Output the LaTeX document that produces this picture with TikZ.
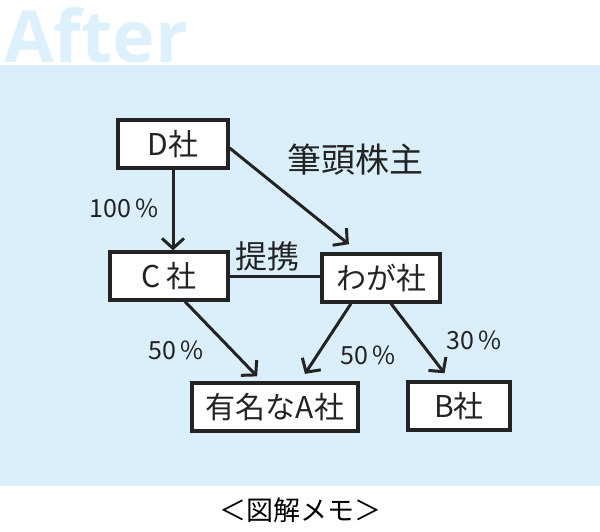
\documentclass[tikz,border=0pt]{standalone}
\usepackage{fontspec}
\setmainfont{Noto Sans CJK JP}
\newfontfamily\afterfont{Open Sans}
\usepackage{tikz}
\usetikzlibrary{positioning, arrows.meta}
\definecolor{memoblue}{RGB}{219,239,251}
\definecolor{afterblue}{RGB}{221,241,253}
\definecolor{ink}{RGB}{35,35,35}

\begin{document}
\begin{tikzpicture}[
  x=1pt, y=-1pt,
  every node/.style={font=\fontsize{30}{34}\selectfont, text=ink},
  corp/.style={
    draw=ink, line width=3.2pt, fill=white,
    minimum height=48pt, inner sep=0pt
  },
  lbl/.style={font=\fontsize{25}{29}\selectfont},
  arrow/.style={-{Straight Barb[length=10pt,width=22pt,line width=3pt]}, line width=3pt, draw=ink},
  link/.style={line width=3pt, draw=ink},
]
\useasboundingbox (0,0) rectangle (600,531);

% Background
\fill[memoblue] (0,65) rectangle (600,486);
\node[anchor=base west, font=\afterfont\bfseries\fontsize{72}{72}\selectfont, text=afterblue,
  inner sep=0pt] (after) at (4,62) {After};

% Companies
\node[corp, minimum width=110pt] (dco) at (173,144) {D社};
\node[corp, minimum width=118pt] (cco) at (169,276) {C 社};
\node[corp, minimum width=118pt] (waga) at (381,278) {わが社};
\node[corp, minimum width=166pt] (aco) at (275,407) {有名なA社};
\node[corp, minimum width=102pt] (bco) at (459,406) {B社};

% Relations
\draw[arrow] (dco.south) -- (dco.south |- cco.north);
\draw[arrow, shorten >=13pt] ([yshift=-4pt]dco.east) -- ([xshift=-22pt]waga.north);
\draw[link] (cco.east) -- (cco.east -| waga.west);
\draw[arrow, shorten >=7pt] ([xshift=16pt]cco.south) -- ([xshift=-13pt]aco.north);
\draw[arrow, shorten >=9pt] ([xshift=-30pt]waga.south) -- ([xshift=25pt]aco.north);
\draw[arrow, shorten >=9pt] ([xshift=10pt]waga.south) -- ([xshift=-9pt]bco.north);

% Labels
\node[lbl] (pct100) at (124,208) {100\,\%};
\node[font=\fontsize{34}{38}\selectfont] (hitto) at (355,160) {筆頭株主};
\node[font=\fontsize{32}{36}\selectfont] (teikei) at (267,256) {提携};
\node[lbl] (pctca) at (176,350) {50\,\%};
\node[lbl] (pctwa) at (368,355) {50\,\%};
\node[lbl] (pctwb) at (474,340) {30\,\%};

% Caption
\node[font=\fontsize{27}{32}\selectfont, text=black] (memo) at (300,510) {＜図解メモ＞};
\end{tikzpicture}
\end{document}
